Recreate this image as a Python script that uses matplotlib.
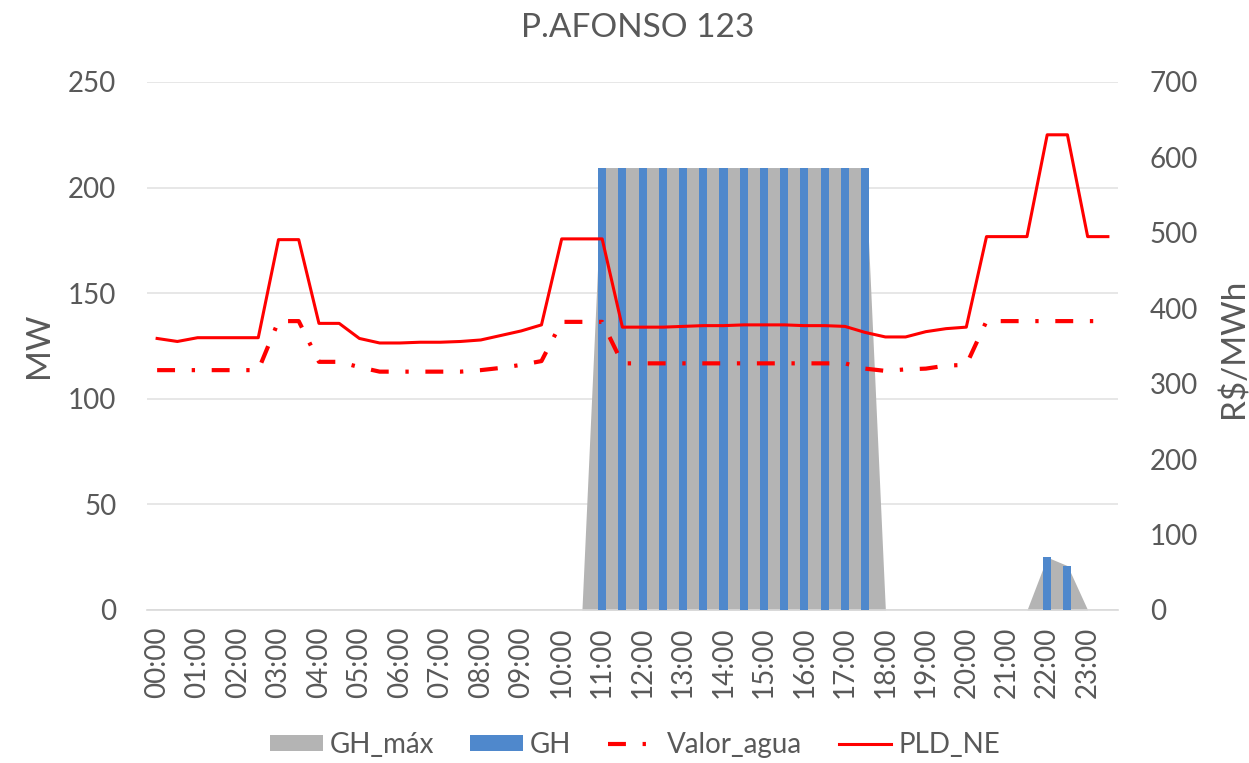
import matplotlib
matplotlib.use("Agg")
import matplotlib.pyplot as plt
from matplotlib.patches import Patch
from matplotlib.lines import Line2D
import numpy as np

plt.rcParams['font.family'] = ['Lato', 'DejaVu Sans']

title = "P.AFONSO 123"
hour_labels = ["00:00", "01:00", "02:00", "03:00", "04:00", "05:00", "06:00", "07:00",
               "08:00", "09:00", "10:00", "11:00", "12:00", "13:00", "14:00", "15:00",
               "16:00", "17:00", "18:00", "19:00", "20:00", "21:00", "22:00", "23:00"]

gh_max = [0, 0, 0, 0, 0, 0, 0, 0, 0, 0, 0, 0,
          0, 0, 0, 0, 0, 0, 0, 0, 0, 0, 209.5, 209.5,
          209.5, 209.5, 209.5, 209.5, 209.5, 209.5, 209.5, 209.5, 209.5, 209.5, 209.5, 209.5,
          0, 0, 0, 0, 0, 0, 0, 0, 25, 21, 0, 0]
gh = [0, 0, 0, 0, 0, 0, 0, 0, 0, 0, 0, 0,
      0, 0, 0, 0, 0, 0, 0, 0, 0, 0, 209.5, 209.5,
      209.5, 209.5, 209.5, 209.5, 209.5, 209.5, 209.5, 209.5, 209.5, 209.5, 209.5, 209.5,
      0, 0, 0, 0, 0, 0, 0, 0, 25, 21, 0, 0]
valor_agua = [318, 318, 318, 318, 318, 318, 383, 383, 329, 329, 322, 316,
              316, 316, 316, 316, 318, 321, 325, 330, 382, 382, 382, 327,
              327, 327, 327, 327, 327, 327, 327, 327, 327, 327, 327, 320,
              317, 319, 320, 324, 325, 383, 383, 383, 383, 383, 383, 383]
pld_ne = [360, 356, 361, 361, 361, 361, 491, 491, 380, 380, 360, 354,
          354, 355, 355, 356, 358, 364, 370, 378, 492, 492, 492, 375,
          375, 375, 376, 377, 377, 378, 378, 378, 377, 377, 376, 368,
          362, 362, 369, 373, 375, 495, 495, 495, 630, 630, 495, 495]

TXT = "#595959"
GRAY = "#B4B4B4"
BLUE = "#4F88CC"
RED = "#FF0000"

n = len(pld_ne)
x = np.arange(n)

fig = plt.figure(figsize=(12.49, 7.63), dpi=100)
ax = fig.add_axes([147/1249, 1-610/763, (1118-147)/1249, (610-82)/763])
ax2 = ax.twinx()

ax.fill_between(x, 0, gh_max, color=GRAY, linewidth=0, zorder=2)
ax.bar(x, gh, width=0.4, color=BLUE, zorder=3)

ax2.plot(x, valor_agua, color=RED, lw=3, dashes=(4.3, 4, 0.8, 4), zorder=4)
ax2.plot(x, pld_ne, color=RED, lw=2.2, zorder=5)

ax.set_xlim(-0.5, n - 0.5)
ax.set_ylim(0, 250)
ax2.set_ylim(0, 700)
ax.set_yticks(np.arange(0, 251, 50))
ax2.set_yticks(np.arange(0, 701, 100))
ax.set_xticks(x[::2])
ax.set_xticklabels(hour_labels, rotation=90)

ax.yaxis.grid(True, color="#E3E3E3", lw=1.2, zorder=0)
ax.set_axisbelow(True)

for a in (ax, ax2):
    for s in a.spines.values():
        s.set_visible(False)
    a.tick_params(length=0, labelsize=20, colors=TXT)
ax.spines['bottom'].set_visible(True)
ax.spines['bottom'].set_color("#D9D9D9")
ax.spines['bottom'].set_linewidth(1.2)
ax.tick_params(axis='y', pad=22)
ax2.tick_params(axis='y', pad=23)
ax.tick_params(axis='x', pad=12)

fig.text(39/1249, 1-345/763, "MW", rotation=90, ha='center', va='center', fontsize=24, color=TXT)
fig.text(1234/1249, 1-348/763, "R$/MWh", rotation=90, ha='center', va='center', fontsize=24, color=TXT)
fig.text(638/1249, 1-28/763, title, ha='center', va='center', fontsize=24, color=TXT)

handles = [Patch(facecolor=GRAY, edgecolor='none'),
           Patch(facecolor=BLUE, edgecolor='none'),
           Line2D([0], [0], color=RED, lw=3, dashes=(4.3, 4, 0.8, 4)),
           Line2D([0], [0], color=RED, lw=2.2)]
labels = ["GH_máx", "GH", "Valor_agua", "PLD_NE"]
fig.legend(handles, labels, loc='center', bbox_to_anchor=(635/1249, 1-745/763), ncol=4,
           frameon=False, fontsize=20, labelcolor=TXT, handlelength=1.9, handleheight=0.5,
           handletextpad=0.25, columnspacing=1.3)

fig.savefig("out.png", dpi=100)
